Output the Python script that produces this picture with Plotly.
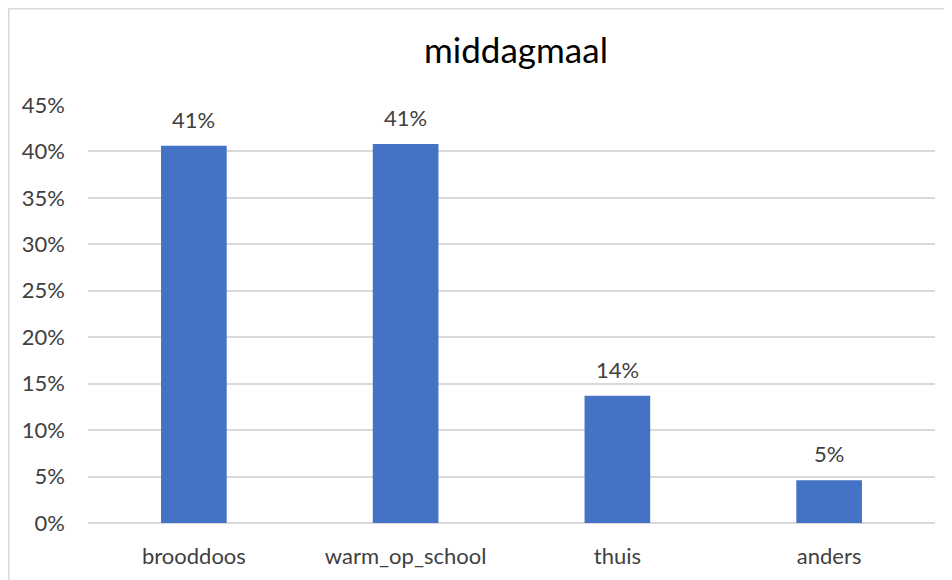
import plotly.graph_objects as go

categories = ["brooddoos", "warm_op_school", "thuis", "anders"]
values = [0.406, 0.408, 0.137, 0.046]
tick_vals = [0, 0.05, 0.10, 0.15, 0.20, 0.25, 0.30, 0.35, 0.40, 0.45]
tick_text = ["0%", "5%", "10%", "15%", "20%", "25%", "30%", "35%", "40%", "45%"]
title_text = "middagmaal"

FONT = "Lato, 'Open Sans', sans-serif"
W, H = 944, 572
L, R, T, B = 80, 17, 97, 57

fig = go.Figure()
fig.add_trace(go.Bar(
    x=categories, y=values,
    marker=dict(color="#4472C4", line=dict(width=0)),
    hoverinfo="skip",
))

for c, v in zip(categories, values):
    fig.add_annotation(x=c, y=v, text=f"{v:.0%}", showarrow=False,
                       yanchor="bottom", yshift=11,
                       font=dict(family=FONT, size=22, color="#404040"))

pw = W - L - R
ph = H - T - B
fig.add_shape(type="rect", xref="paper", yref="paper",
              x0=(0.75 - L) / pw, x1=(980 - L) / pw,
              y0=-(600 - (H - B)) / ph, y1=1 + (T - 0.75) / ph,
              line=dict(color="#d9d9d9", width=1.5), layer="below")

fig.update_layout(
    width=W, height=H,
    margin=dict(l=L, r=R, t=T, b=B),
    paper_bgcolor="white", plot_bgcolor="white",
    bargap=0.69,
    showlegend=False,
    title=dict(text=title_text, x=(516 - 8) / W, xanchor="center",
               y=1 - 43 / H, yanchor="middle", yref="container", xref="container",
               font=dict(family=FONT, size=35, color="#000000")),
    font=dict(family=FONT, size=22, color="#404040"),
)
fig.update_xaxes(showgrid=False, showline=False, ticks="", ticklabelstandoff=18,
                 tickfont=dict(family=FONT, size=22, color="#404040"))
fig.update_yaxes(range=[0, 0.45], tickvals=tick_vals, ticktext=tick_text,
                 showgrid=True, gridcolor="#d9d9d9", gridwidth=1.5,
                 zeroline=True, zerolinecolor="#d9d9d9", zerolinewidth=1.5,
                 showline=False, ticks="", ticklabelstandoff=22,
                 tickfont=dict(family=FONT, size=22, color="#404040"))

fig.write_html("out.html")
